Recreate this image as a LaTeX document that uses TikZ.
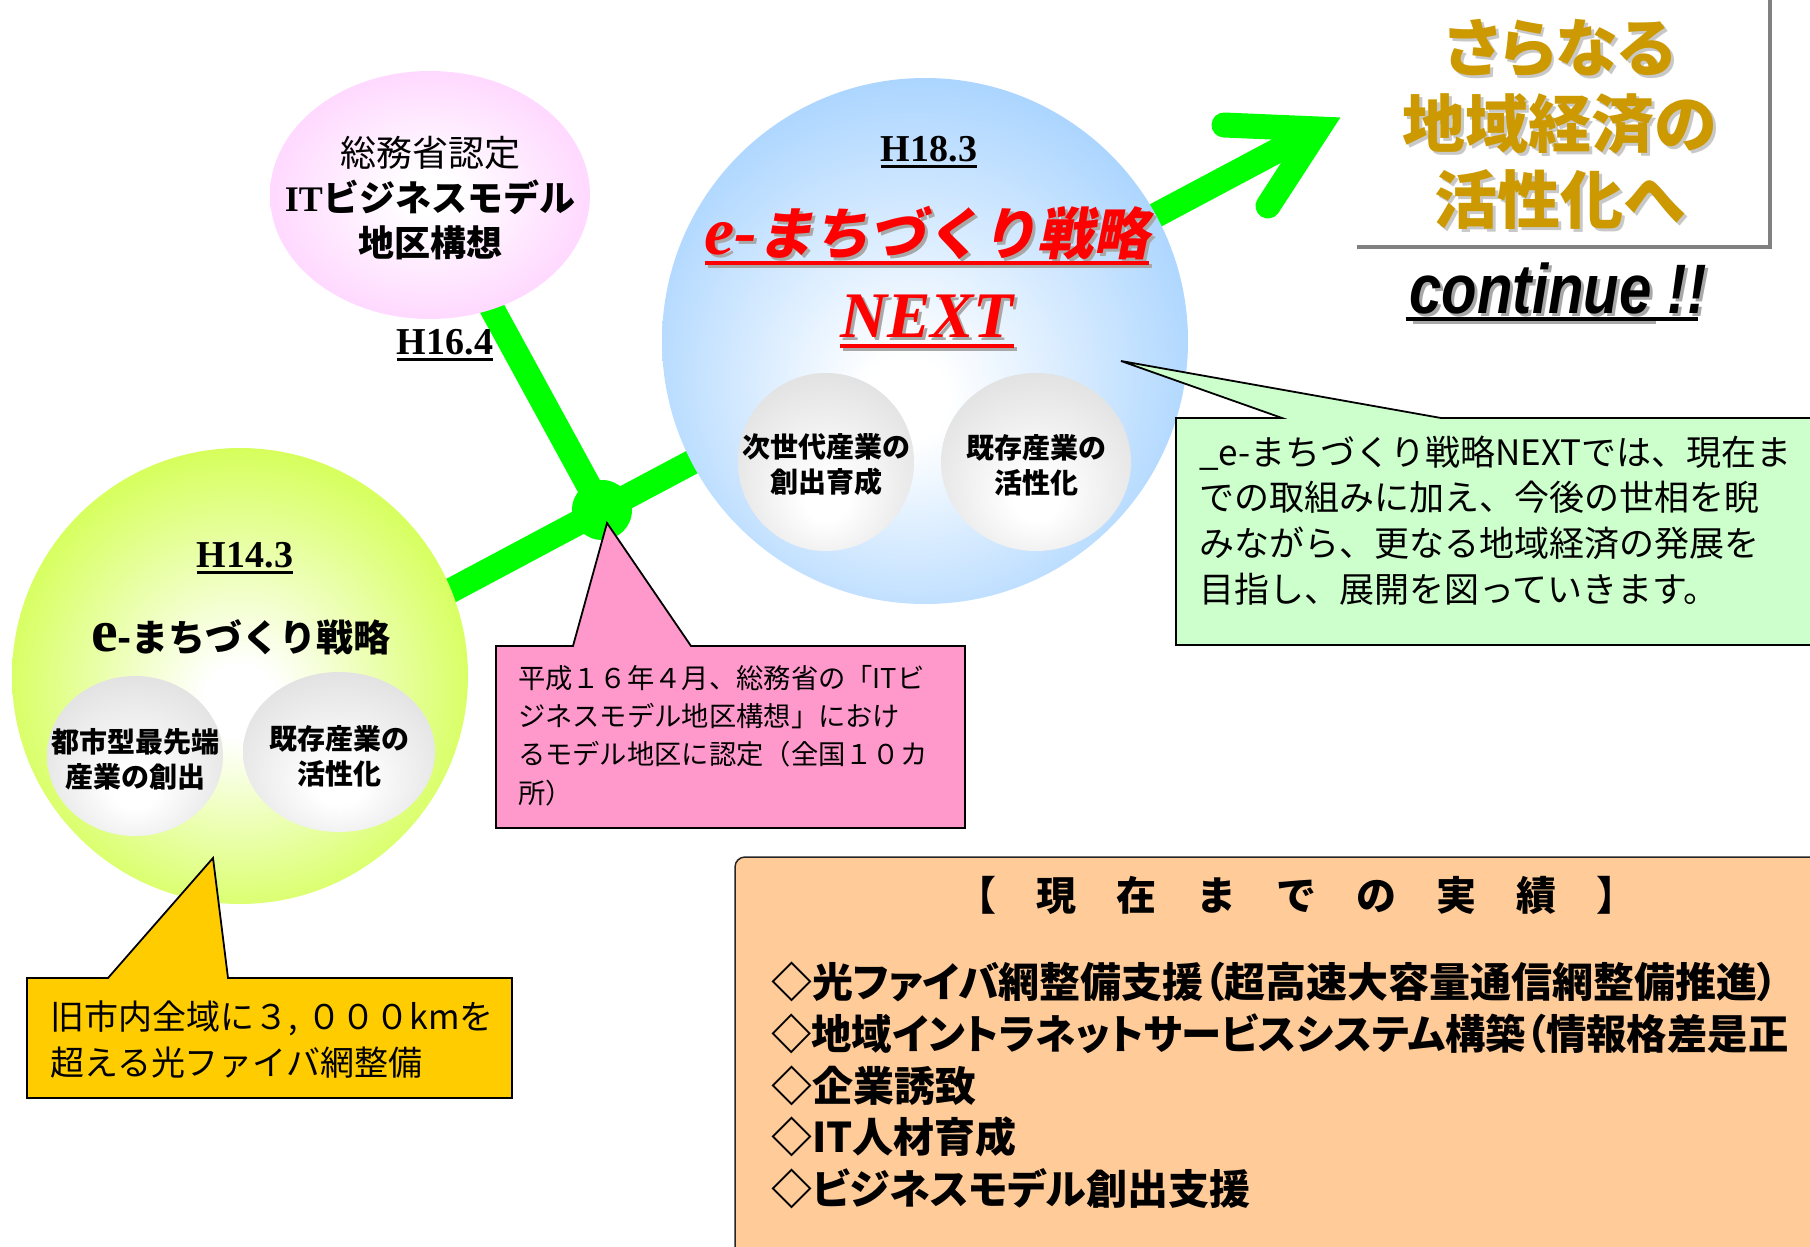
\documentclass[tikz,border=0pt]{standalone}
\usepackage{fontspec}
\usepackage{graphicx}
\setmainfont{Liberation Serif}
\newfontfamily\jp{Noto Sans CJK JP}
\newfontfamily\jpsl[FakeSlant=0.2]{Noto Sans CJK JP}
\newfontfamily\jpp[RawFeature=+palt]{Noto Sans CJK JP}
\newfontfamily\arl{Liberation Sans}
\usetikzlibrary{shapes.geometric,calc}
\pgfdeclarelayer{bg}
\pgfsetlayers{bg,main}
\definecolor{lgreen}{HTML}{CCFF33}
\definecolor{lblue}{HTML}{99CCFF}
\definecolor{lpink}{HTML}{FFC8FF}
\definecolor{lgray}{HTML}{D6D6D6}
\definecolor{linegreen}{HTML}{00FF00}
\definecolor{calpink}{HTML}{FF99CC}
\definecolor{calgreen}{HTML}{CCFFCC}
\definecolor{calyellow}{HTML}{FFCC00}
\definecolor{calorange}{HTML}{FFCC99}
\definecolor{goldtxt}{HTML}{CC9900}
\definecolor{shadowgray}{HTML}{A8A8A8}
\definecolor{lightshadow}{HTML}{C8C8C8}
\definecolor{boxgray}{HTML}{808080}
\pgfdeclareradialshading{greenball}{\pgfpoint{0bp}{-3bp}}{color(0bp)=(white); color(4bp)=(white); color(32bp)=(lgreen); color(50bp)=(lgreen)}
\pgfdeclareradialshading{blueball}{\pgfpoint{-2bp}{-6bp}}{color(0bp)=(white); color(4bp)=(white); color(33bp)=(lblue); color(50bp)=(lblue)}
\pgfdeclareradialshading{pinkball}{\pgfpoint{0bp}{0bp}}{color(0bp)=(white); color(4bp)=(white); color(34bp)=(lpink); color(50bp)=(lpink)}
\pgfdeclareradialshading{grayball}{\pgfpoint{0bp}{-12bp}}{color(0bp)=(white); color(6bp)=(white); color(40bp)=(lgray); color(50bp)=(lgray)}
\newcommand\myfs[2]{\fontsize{#1}{#2}\selectfont}
\newcommand\shd[2]{\leavevmode\rlap{\kern3pt\raisebox{-3pt}{\color{#1}#2}}#2}
\newcommand\redetext{{\bfseries\itshape\myfs{68}{68}e-}{\jpsl\bfseries\myfs{56}{56}まちづくり戦略}}
\newcommand\conttext{\scalebox{0.83}[1]{\arl\bfseries\itshape\myfs{70}{70}continue !!}}
\tikzset{
  gline/.style={draw=linegreen, line width=25},
  hlabel/.style={font=\bfseries\myfs{38}{38}},
  ulin/.style={line width=2.5},
  grayell/.style={ellipse, shading=grayball},
  graytxt/.style={align=center, font=\jp\bfseries\myfs{28}{35}},
  callout/.style={draw=black, line width=1.8, line join=miter},
  boxshadow/.style={draw=boxgray, line width=4},
}
\begin{document}
\begin{tikzpicture}[x=1pt,y=-1pt]
\tikzset{every node/.style={inner sep=0pt, outer sep=0pt}}
\useasboundingbox (0,0) rectangle (1810,1247);
\begin{pgfonlayer}{bg}
\fill[white] (0,0) rectangle (1810,1247);
\end{pgfonlayer}
\clip (0,0) rectangle (1810,1247);

% main shapes
\node[circle, minimum size=456, shading=greenball] (c14) at (240,676) {};
\node[ellipse, minimum width=320, minimum height=248, shading=pinkball] (pinkell) at (430,195) {};
\node[circle, minimum size=526, shading=blueball] (c18) at (925,341) {};
\node[circle, minimum size=60, fill=linegreen] (junc) at (602,510) {};
\coordinate (lstart) at (300,671);
\coordinate (tipc) at (1318,129);
\coordinate (barbA) at (1224,125);
\coordinate (barbB) at (1268,206);

\begin{pgfonlayer}{bg}
\draw[gline] (lstart) -- (junc.center) -- (tipc);
\draw[gline] (junc.center) -- (pinkell.center);
\draw[gline, line cap=round, line join=miter] (barbA) -- (tipc) -- (barbB);
\end{pgfonlayer}

% H14.3 circle
\node[grayell, minimum width=176, minimum height=160] (g14a) at (135,756) {};
\node[grayell, minimum width=192, minimum height=160] (g14b) at (339,752) {};
\node[graytxt] (t14a) at (135,759) {都市型最先端\\産業の創出};
\node[graytxt] (t14b) at (339,756) {既存産業の\\活性化};
\node[hlabel] (h143) at (245,555) {H14.3};
\draw[ulin] ($(h143.base west)+(0,5)$) -- ($(h143.base east)+(0,5)$);
\node (e14) at (241,637) {{\bfseries\myfs{60}{60}e}{\jp\bfseries\myfs{37}{37}-まちづくり戦略}};

% pink ellipse
\node[align=center, font=\jp\myfs{36}{45}] (tpink) at (430,198) {総務省認定\\{\rmfamily\bfseries IT}{\bfseries ビジネスモデル}\\{\bfseries 地区構想}};
\node[hlabel] (h164) at (445,342) {H16.4};
\draw[ulin] ($(h164.base west)+(0,5)$) -- ($(h164.base east)+(0,5)$);

% H18.3 circle
\node[grayell, minimum width=176, minimum height=178] (g18a) at (826,462) {};
\node[grayell, minimum width=190, minimum height=178] (g18b) at (1036,462) {};
\node[graytxt] (t18a) at (826,465) {次世代産業の\\創出育成};
\node[graytxt] (t18b) at (1036,465) {既存産業の\\活性化};
\node[hlabel] (h183) at (929,149) {H18.3};
\draw[ulin] ($(h183.base west)+(0,5)$) -- ($(h183.base east)+(0,5)$);
\node[text=red] (e18) at (927,235) {\shd{shadowgray}{\redetext}};
\draw[shadowgray, line width=4] ($(e18.base west)+(3,11)$) -- ($(e18.base east)+(3,11)$);
\draw[red, line width=4] ($(e18.base west)+(0,8)$) -- ($(e18.base east)+(0,8)$);
\node[text=red, font=\bfseries\itshape\myfs{65}{65}] (next) at (927,318) {\shd{shadowgray}{NEXT}};
\draw[shadowgray, line width=4] ($(next.base west)+(3,11)$) -- ($(next.base east)+(3,11)$);
\draw[red, line width=4] ($(next.base west)+(0,8)$) -- ($(next.base east)+(0,8)$);

% top right
\draw[boxshadow] (1770,-10) -- (1770,249);
\draw[boxshadow] (1357,247) -- (1772,247);
\node[align=center, text=goldtxt, font=\jpp\bfseries\myfs{63}{76}] (gold) at (1560,126) {\shd{lightshadow}{さらなる}\\\shd{lightshadow}{地域経済の}\\\shd{lightshadow}{活性化へ}};
\node (cont) at (1558,290) {\shd{shadowgray}{\conttext}};
\draw[shadowgray, line width=3] ($(cont.base west)+(3,9)$) -- ($(cont.base east)+(-50,9)$);
\draw[line width=4] ($(cont.base west)+(-4,5)$) -- ($(cont.base east)+(-8,5)$);

% callouts
\draw[callout, fill=calpink] (496,646) -- (573,646) -- (607,523) -- (691,646) -- (965,646) -- (965,828) -- (496,828) -- cycle;
\node[anchor=west, align=left, font=\jp\myfs{27.3}{38.3}] (tpc) at (518,735.5) {平成１６年４月、総務省の「ITビ\\ジネスモデル地区構想」におけ\\るモデル地区に認定（全国１０カ\\所）};

\draw[callout, fill=calyellow] (27,978) -- (108,978) -- (213,858) -- (228,978) -- (512,978) -- (512,1098) -- (27,1098) -- cycle;
\node[anchor=west, align=left, font=\jp\myfs{34}{46}] (tyc) at (50,1040) {旧市内全域に３,\hspace{0.3em}０００kmを\\超える光ファイバ網整備};

\draw[callout, fill=calgreen] (1176,418) -- (1282,418) -- (1121,361) -- (1441,418) -- (1840,418) -- (1840,645) -- (1176,645) -- cycle;
\node[anchor=west, align=left, font=\jp\myfs{35}{45.7}] (tgc) at (1199,520.5) {\_e-まちづくり戦略NEXTでは、現在ま\\での取組みに加え、今後の世相を睨\\みながら、更なる地域経済の発展を\\目指し、展開を図っていきます。};

% results box
\draw[fill=calorange, draw=black!85, line width=1.5, rounded corners=10] (735,857) rectangle (1850,1290);
\node[font=\jp\bfseries\myfs{40}{40}] (ttl) at (1296,895) {【　現　在　ま　で　の　実　績　】};
\node[anchor=west, align=left, font=\jpp\bfseries\myfs{41}{51.75}] (lst) at (771,1085.5) {◇光ファイバ網整備支援（超高速大容量通信網整備推進）\\\scalebox{0.985}[1]{◇地域イントラネットサービスシステム構築（情報格差是正}\\◇企業誘致\\◇IT人材育成\\◇ビジネスモデル創出支援};
\end{tikzpicture}
\end{document}
